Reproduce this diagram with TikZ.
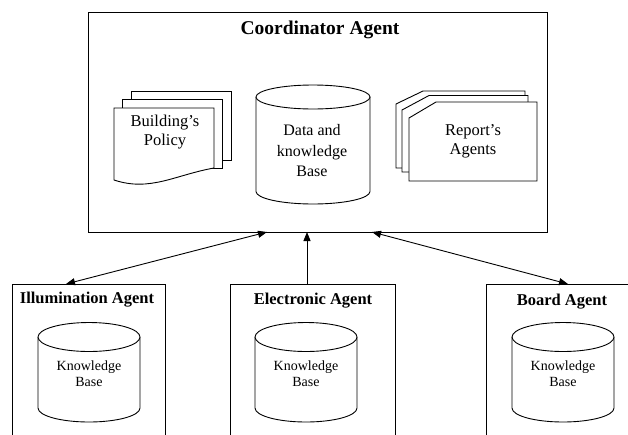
\documentclass[tikz,border=0pt]{standalone}
\usepackage{fontspec}
\setmainfont{Liberation Serif}
\usetikzlibrary{arrows.meta}
\begin{document}
\begin{tikzpicture}[x=1pt,y=-1pt,line width=0.9pt,
  boxsty/.style={draw,fill=white,anchor=north west,inner sep=0pt},
  maintitle/.style={font=\fontsize{19.5}{23}\selectfont\bfseries},
  agenttitle/.style={font=\fontsize{16.5}{20}\selectfont\bfseries},
  bigtext/.style={align=center,font=\fontsize{16}{20.5}\selectfont},
  doctext/.style={align=center,font=\fontsize{16.5}{19}\selectfont},
  kbtext/.style={align=center,font=\fontsize{14}{16.5}\selectfont},
  shapesty/.style={draw,fill=white},
  link/.style={{Triangle[length=9pt,width=7pt]}-{Triangle[length=9pt,width=7pt]}},
  uplink/.style={-{Triangle[length=9pt,width=7pt]}}]
\useasboundingbox (0,0) rectangle (628,434);
\clip (0,0) rectangle (628,434);

% boxes
\node[boxsty,minimum width=459pt,minimum height=220pt] (coord) at (88,12) {};
\node[boxsty,minimum width=153pt,minimum height=170pt] (illum) at (11.5,284) {};
\node[boxsty,minimum width=165pt,minimum height=170pt] (elec) at (230,283.5) {};
\node[boxsty,minimum width=160pt,minimum height=170pt] (board) at (486,284) {};

% titles
\node[maintitle] (ctitle) at (320,30) {Coordinator Agent};
\node[agenttitle] (ititle) at (87,300) {Illumination Agent};
\node[agenttitle] (etitle) at (313,301) {Electronic Agent};
\node[agenttitle] (btitle) at (562,302) {Board Agent};

% big cylinder
\draw[shapesty] (256,97) -- (256,191.5) arc[start angle=180,end angle=360,x radius=57pt,y radius=12.5pt] -- (370,97);
\draw[shapesty] (313,97) ellipse [x radius=57pt,y radius=12pt];
\node[bigtext] (dkb) at (312,151) {Data and\\knowledge\\Base};

% small cylinders
\foreach \cx/\nm in {89/ikb,306/ekb,563/bkb}{
  \draw[shapesty] (\cx-51,337) -- (\cx-51,408) arc[start angle=180,end angle=360,x radius=51pt,y radius=14pt] -- (\cx+51,337);
  \draw[shapesty] (\cx,337) ellipse [x radius=51pt,y radius=14.5pt];
  \node[kbtext] (\nm) at (\cx,373.5) {Knowledge\\Base};
}

% Building's Policy document stack
\draw[shapesty] (131,91) rectangle (231,160);
\draw[shapesty] (122.5,99.5) rectangle (222.5,168);
\draw[shapesty] (114,108) -- (214,108) -- (214,168) .. controls (175,175) and (150,192) .. (114,180) -- cycle;
\node[doctext] (policy) at (165,132.5) {Building’s\\Policy};

% Report's Agents card stack
\draw[shapesty] (423,91) -- (525,91) -- (525,168) -- (396,168) -- (396,104) -- cycle;
\draw[shapesty] (429,95.5) -- (528,95.5) -- (528,172) -- (402,172) -- (402,110) -- cycle;
\draw[shapesty] (436,102) -- (537,102) -- (537,181) -- (409,181) -- (409,118) -- cycle;
\node[doctext] (report) at (473,141.5) {Report’s\\Agents};

% connectors
\coordinate (ci) at (267,232);
\coordinate (ce) at (307,232);
\coordinate (cb) at (372,232);
\coordinate (ti) at (66,284);
\coordinate (te) at (307,283.5);
\coordinate (tb) at (568,284);
\draw[link] (ti) -- (ci);
\draw[uplink] (te) -- (ce);
\draw[link] (cb) -- (tb);
\end{tikzpicture}
\end{document}
